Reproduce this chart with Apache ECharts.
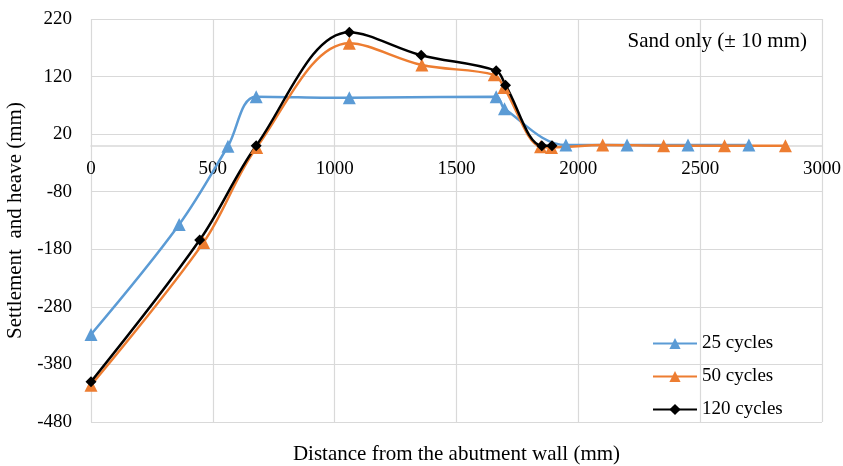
<!DOCTYPE html>
<html lang="en">
<head>
    <meta charset="utf-8">
    <script src="https://cdn.jsdelivr.net/npm/echarts@6.0.0/dist/echarts.min.js"></script>
    <style>
        html, body { margin: 0; padding: 0; background: #fff; }
        #main { width: 843px; height: 466px; }
    </style>
</head>
<body>
<div id="main"></div>
<script type="text/javascript">
    // values: [distance (mm), settlement/heave (mm)]
    var seriesNames = ['25 cycles', '50 cycles', '120 cycles'];
    var cycles25 = [[0, -328], [362, -137], [562, -1], [678, 85], [1060, 83], [1663, 85], [1697, 64],
        [1949, 1], [2200, 1], [2450, 1], [2700, 1]];
    var cycles50 = [[0, -416], [462, -168], [680, -3], [1060, 178], [1358, 140], [1655, 123], [1695, 101],
        [1845, -2], [1890, -3], [2100, 1], [2350, 0], [2600, 0], [2850, 0]];
    var cycles120 = [[0, -410], [446, -164], [678, 0], [1060, 197], [1355, 157], [1663, 130], [1701, 105],
        [1850, 0], [1892, 0]];
    var note = 'Sand only (\u00b1 10 mm)';

    var font = 'Liberation Serif';
    var gridColor = '#d9d9d9';
    var plotH = 466 - 19 - 44;
    // the x axis sits on y = 0, not at the bottom of the plot
    var zeroOffset = -plotH * (0 - (-480)) / 700;

    var myChart = echarts.init(document.getElementById('main'));
    myChart.setOption({
        animation: false,
        textStyle: { fontFamily: font },
        title: {
            text: note,
            right: 31,
            top: 26,
            textStyle: { fontFamily: font, fontSize: 21, fontWeight: 'normal', color: '#000' }
        },
        legend: {
            orient: 'vertical',
            left: 647,
            top: 329,
            itemWidth: 44,
            itemHeight: 14,
            itemGap: 14,
            data: seriesNames,
            textStyle: { fontFamily: font, fontSize: 19, color: '#000' }
        },
        grid: { left: 91, right: 21, top: 19, bottom: 44, outerBoundsMode: 'none', containLabel: false },
        xAxis: {
            type: 'value',
            min: 0,
            max: 3000,
            interval: 500,
            offset: zeroOffset,
            name: 'Distance from the abutment wall (mm)',
            nameLocation: 'middle',
            nameGap: 298,
            nameTextStyle: { fontFamily: font, fontSize: 21, color: '#000' },
            axisLine: { onZero: false, lineStyle: { color: gridColor, width: 1.5 } },
            axisTick: { show: false },
            axisLabel: {
                margin: 14, fontFamily: font, fontSize: 19, color: '#000',
                formatter: function (v) { return String(v); }
            },
            splitLine: { show: true, lineStyle: { color: gridColor, width: 1.2 } }
        },
        yAxis: {
            type: 'value',
            min: -480,
            max: 220,
            interval: 100,
            name: 'Settlement  and heave (mm)',
            nameLocation: 'middle',
            nameGap: 62,
            nameTextStyle: { fontFamily: font, fontSize: 21, color: '#000' },
            axisLine: { show: false },
            axisTick: { show: false },
            axisLabel: {
                margin: 19, fontFamily: font, fontSize: 19, color: '#000',
                formatter: function (v) { return String(v); }
            },
            splitLine: { show: true, lineStyle: { color: gridColor, width: 1.2 } }
        },
        series: [{
            name: seriesNames[0],
            type: 'line',
            data: cycles25,
            smooth: 0.35,
            symbol: 'triangle',
            symbolSize: 13,
            itemStyle: { color: '#5b9bd5' },
            lineStyle: { color: '#5b9bd5', width: 2.5 }
        }, {
            name: seriesNames[1],
            type: 'line',
            data: cycles50,
            smooth: 0.35,
            symbol: 'triangle',
            symbolSize: 13,
            itemStyle: { color: '#ed7d31' },
            lineStyle: { color: '#ed7d31', width: 2.5 }
        }, {
            name: seriesNames[2],
            type: 'line',
            data: cycles120,
            smooth: 0.35,
            symbol: 'diamond',
            symbolSize: 11,
            itemStyle: { color: '#000' },
            lineStyle: { color: '#000', width: 2.5 }
        }]
    });
</script>
</body>
</html>
